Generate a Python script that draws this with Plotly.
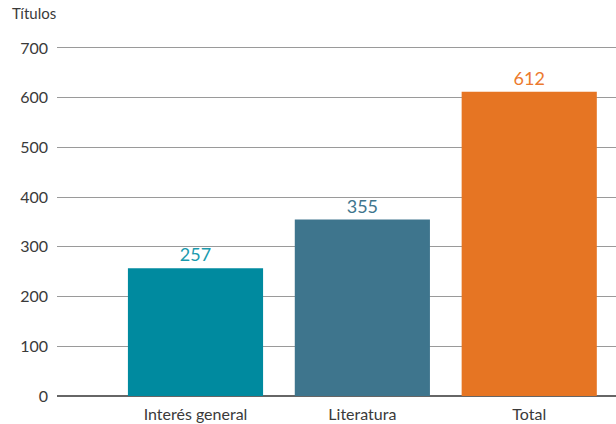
import plotly.graph_objects as go

categories = ["Interés general", "Literatura", "Total"]
values = [257, 355, 612]
colors = ["#008A9F", "#3E758D", "#E67523"]
label_colors = ["#1A9AAE", "#3E758D", "#EC7A2E"]
y_ticks = [0, 100, 200, 300, 400, 500, 600, 700]

fig = go.Figure()
fig.add_trace(go.Bar(
    x=categories, y=values,
    marker=dict(color=colors, line=dict(width=0)),
    text=[str(v) for v in values],
    textposition="outside",
    textfont=dict(family="Lato", size=18, color=label_colors),
    cliponaxis=False,
    width=0.81,
))

fig.update_layout(
    width=616, height=424,
    margin=dict(l=57, r=0, t=46, b=28),
    paper_bgcolor="white", plot_bgcolor="white",
    font=dict(family="Lato", size=16, color="#3a3a3a"),
    showlegend=False,
    annotations=[dict(text="Títulos", x=0, y=1, xref="paper", yref="paper",
                      xanchor="left", yanchor="bottom", xshift=-47, yshift=22,
                      showarrow=False, font=dict(family="Lato", size=15, color="#3a3a3a"))],
)
fig.update_xaxes(
    range=[-0.83, 2.52],
    showgrid=False, showline=False, zeroline=False,
    ticks="", ticklabelstandoff=7, tickfont=dict(size=16, color="#3a3a3a"),
)
fig.update_yaxes(
    range=[0, 704], tickvals=y_ticks,
    showgrid=True, gridcolor="#9A9A9A", gridwidth=1,
    zeroline=True, zerolinecolor="#666666", zerolinewidth=2,
    showline=False, ticks="", ticklabelstandoff=8,
    tickfont=dict(size=16, color="#3a3a3a"),
)

fig.write_html("out.html", config={"displayModeBar": False},
               post_script="document.body.style.margin='0';")
